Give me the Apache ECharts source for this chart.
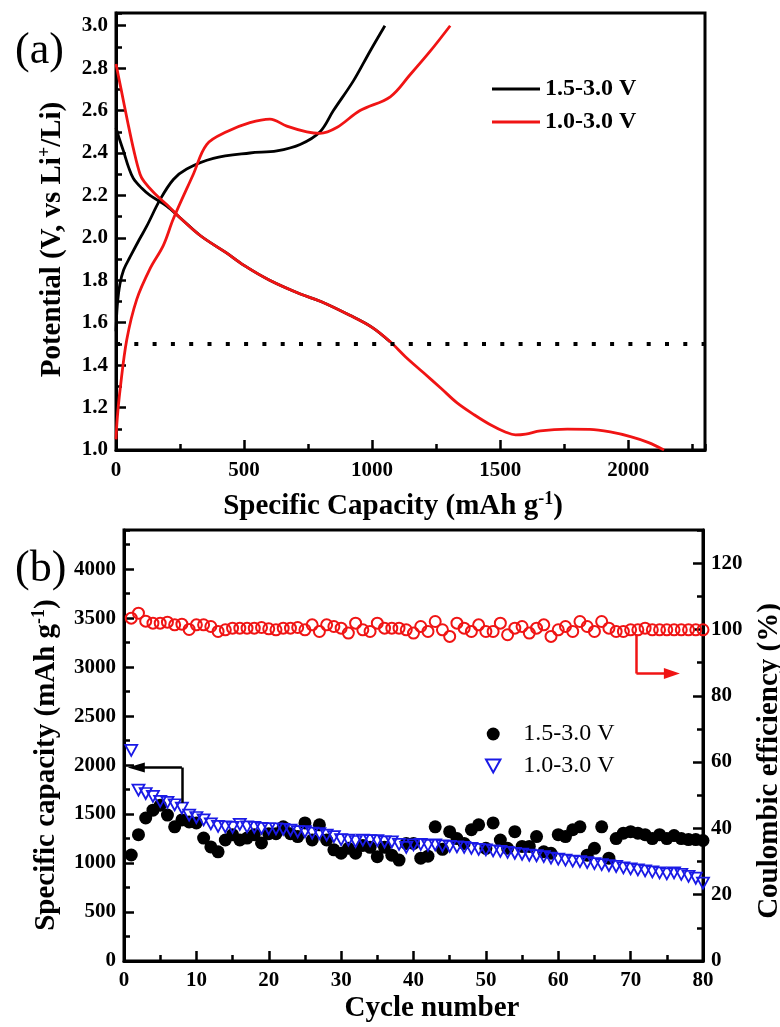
<!DOCTYPE html>
<html>
<head>
<meta charset="utf-8">
<script src="https://cdn.jsdelivr.net/npm/echarts@6.0.0/dist/echarts.min.js"></script>
<style>
  html, body { margin: 0; padding: 0; background: #fff; }
  #chart { width: 780px; height: 1027px; }
</style>
</head>
<body>
<div id="chart"></div>
<script>
// panel (a): voltage profiles, [capacity (mAh/g), potential (V)]
const dis15 = [[0, 2.52], [15, 2.46], [29, 2.41], [50, 2.33], [68, 2.28], [100, 2.235], [133, 2.2], [198, 2.15], [250, 2.095],
  [330, 2.01], [430, 1.93], [500, 1.87], [600, 1.8], [720, 1.735], [800, 1.7], [913, 1.635], [1000, 1.578], [1070, 1.51]];
const chg15 = [[0, 1.56], [5, 1.68], [15, 1.78], [30, 1.85], [55, 1.91], [90, 1.99], [120, 2.055], [172, 2.18], [224, 2.275],
  [276, 2.325], [380, 2.375], [523, 2.4], [628, 2.41], [719, 2.44], [797, 2.5], [849, 2.6], [927, 2.74], [992, 2.88], [1050, 3.0]];
const dis10 = [[0, 2.82], [20, 2.7], [45, 2.55], [70, 2.41], [94, 2.3], [110, 2.265], [150, 2.21], [200, 2.155], [250, 2.095],
  [330, 2.01], [430, 1.93], [500, 1.87], [600, 1.8], [720, 1.735], [800, 1.7], [913, 1.635], [1000, 1.578], [1071, 1.51],
  [1130, 1.44], [1201, 1.364], [1270, 1.29], [1332, 1.222], [1400, 1.165], [1462, 1.119], [1520, 1.085], [1560, 1.071],
  [1600, 1.075], [1657, 1.09], [1762, 1.098], [1850, 1.097], [1930, 1.085], [2009, 1.063], [2080, 1.035], [2140, 1.0]];
const chg10 = [[0, 1.05], [5, 1.15], [16, 1.285], [42, 1.52], [81, 1.71], [133, 1.855], [185, 1.965], [224, 2.09], [302, 2.3],
  [354, 2.44], [432, 2.5], [523, 2.543], [601, 2.56], [667, 2.527], [745, 2.5], [797, 2.493], [862, 2.52], [953, 2.6],
  [1071, 2.665], [1149, 2.77], [1227, 2.88], [1305, 3.0]];
const cutoff = [[0, 1.5], [2300, 1.5]];

// panel (b): cycling
const cycles = [1, 2, 3, 4, 5, 6, 7, 8, 9, 10, 11, 12, 13, 14, 15, 16, 17, 18, 19, 20,
  21, 22, 23, 24, 25, 26, 27, 28, 29, 30, 31, 32, 33, 34, 35, 36, 37, 38, 39, 40,
  41, 42, 43, 44, 45, 46, 47, 48, 49, 50, 51, 52, 53, 54, 55, 56, 57, 58, 59, 60,
  61, 62, 63, 64, 65, 66, 67, 68, 69, 70, 71, 72, 73, 74, 75, 76, 77, 78, 79, 80];
const cap15 = [1082, 1290, 1460, 1540, 1590, 1490, 1370, 1440, 1420, 1410, 1255, 1165, 1115, 1235, 1290, 1235, 1255, 1290, 1205, 1300,
  1300, 1370, 1300, 1270, 1410, 1235, 1390, 1235, 1135, 1100, 1150, 1100, 1180, 1160, 1065, 1160, 1080, 1030, 1200, 1200,
  1050, 1070, 1370, 1140, 1320, 1250, 1200, 1340, 1390, 1150, 1410, 1235, 1150, 1320, 1170, 1170, 1270, 1115, 1100, 1290,
  1270, 1340, 1370, 1080, 1150, 1370, 1050, 1250, 1305, 1320, 1305, 1290, 1250, 1290, 1250, 1280, 1250, 1240, 1240, 1230];
const cap10 = [2150, 1745, 1710, 1680, 1630, 1620, 1595, 1560, 1490, 1465, 1440, 1400, 1375, 1370, 1365, 1395, 1370, 1365, 1355, 1350,
  1350, 1345, 1335, 1320, 1320, 1305, 1300, 1285, 1270, 1240, 1235, 1220, 1235, 1230, 1230, 1215, 1215, 1190, 1160, 1185,
  1190, 1180, 1185, 1175, 1170, 1165, 1160, 1150, 1140, 1135, 1125, 1120, 1110, 1100, 1090, 1080, 1075, 1065, 1050, 1040,
  1030, 1020, 1015, 1005, 995, 985, 975, 965, 950, 940, 930, 920, 910, 900, 890, 900, 885, 865, 845, 795];
const ceff = [103.4, 104.9, 102.5, 101.9, 101.9, 102.2, 101.4, 101.6, 100.0, 101.4, 101.4, 100.9, 99.4, 99.9, 100.4, 100.4, 100.4, 100.4, 100.6, 100.2,
  99.9, 100.4, 100.4, 100.6, 99.9, 101.4, 99.4, 101.4, 100.9, 100.4, 98.9, 101.9, 99.9, 99.4, 101.9, 100.4, 100.4, 100.4, 99.9, 98.9,
  100.9, 99.4, 102.4, 99.9, 97.9, 101.9, 100.4, 99.4, 101.4, 99.4, 99.4, 101.9, 98.4, 100.4, 100.9, 98.9, 100.4, 101.4, 97.9, 99.9,
  100.9, 99.4, 102.4, 100.9, 99.4, 102.4, 100.4, 99.4, 99.4, 99.9, 99.9, 100.4, 99.9, 99.9, 99.9, 99.9, 99.9, 99.9, 99.9, 99.9];

const FONT = 'Liberation Serif';
const pairs = (xs, ys) => xs.map((x, i) => [x, ys[i]]);
const plain = (v) => String(v);

const tickLabel = { color: '#000', fontFamily: FONT, fontWeight: 'bold', fontSize: 21, showMaxLabel: false, formatter: plain };
const lineAx = { lineStyle: { color: '#000', width: 3 } };
const majorTick = { inside: true, length: 10, lineStyle: { color: '#000', width: 2.5 } };
const minorTick = { inside: true, length: 6, lineStyle: { color: '#000', width: 2.5 } };
const nameStyle = (pad) => ({
  color: '#000', fontFamily: FONT, fontWeight: 'bold', fontSize: 29, lineHeight: 33, padding: pad,
  rich: { sup: { fontFamily: FONT, fontWeight: 'bold', fontSize: 18, lineHeight: 19, verticalAlign: 'top' } }
});
// axis that only adds the small in-between ticks
const minorAxis = (grid, min, max, step, pos) => ({
  type: 'value', gridIndex: grid, min: min, max: max, interval: step, position: pos,
  axisLine: { show: false }, axisTick: minorTick, axisLabel: { show: false }, splitLine: { show: false }
});
const profile = (name, data, color) => ({
  name: name, type: 'line', xAxisIndex: 0, yAxisIndex: 0, data: data, symbol: 'none', showSymbol: false,
  smooth: 0.35, color: color, lineStyle: { color: color, width: 2.8 }
});

const chart = echarts.init(document.getElementById('chart'));
chart.setOption({
  animation: false,
  backgroundColor: '#fff',
  textStyle: { fontFamily: FONT },
  title: [
    { text: '(a)', left: 10, top: 24, textStyle: { fontFamily: FONT, fontWeight: 'normal', fontSize: 44, color: '#000' } },
    { text: '(b)', left: 10, top: 542, textStyle: { fontFamily: FONT, fontWeight: 'normal', fontSize: 44, color: '#000' } }
  ],
  grid: [
    { left: 116, top: 13, right: 75, bottom: 577, show: true, borderWidth: 3, borderColor: '#000', outerBoundsMode: 'none' },
    { left: 124, top: 530, right: 77, bottom: 66, show: true, borderWidth: 3, borderColor: '#000', outerBoundsMode: 'none' }
  ],
  legend: [
    {
      data: [{ name: '1.5-3.0 V', icon: 'rect' }, { name: '1.0-3.0 V', icon: 'rect' }],
      orient: 'vertical', left: 487, top: 69, itemWidth: 48, itemHeight: 3, itemGap: 3,
      textStyle: { fontFamily: FONT, fontWeight: 'bold', fontSize: 24, color: '#000', lineHeight: 30 }, selectedMode: false
    },
    {
      data: ['1.5-3.0 V#b', '1.0-3.0 V#b'], orient: 'vertical', left: 480, top: 714, itemWidth: 50, itemHeight: 13, itemGap: 2,
      formatter: (n) => n.split('#')[0],
      textStyle: { fontFamily: FONT, fontSize: 24, color: '#000', lineHeight: 30 }, selectedMode: false
    }
  ],
  xAxis: [
    {
      type: 'value', gridIndex: 0, min: 0, max: 2300, interval: 500,
      axisLine: lineAx, axisTick: majorTick, axisLabel: Object.assign({}, tickLabel, { margin: 10 }), splitLine: { show: false },
      name: 'Specific Capacity (mAh g{sup|-1})', nameLocation: 'middle', nameGap: 40, nameTextStyle: nameStyle([0, 35, 0, 0])
    },
    minorAxis(0, 0, 2300, 250, 'bottom'),
    {
      type: 'value', gridIndex: 1, min: 0, max: 80, interval: 10,
      axisLine: lineAx, axisTick: majorTick, minorTick: { show: true, splitNumber: 2, length: 6, lineStyle: { color: '#000', width: 2.5 } },
      axisLabel: Object.assign({}, tickLabel, { margin: 9, showMaxLabel: true }), splitLine: { show: false }, minorSplitLine: { show: false },
      name: 'Cycle number', nameLocation: 'middle', nameGap: 30, nameTextStyle: nameStyle([0, 0, 0, 37])
    }
  ],
  yAxis: [
    {
      type: 'value', gridIndex: 0, min: 1, max: 3.06, interval: 0.2,
      axisLine: lineAx, axisTick: majorTick, splitLine: { show: false },
      axisLabel: Object.assign({}, tickLabel, { margin: 8, formatter: (v) => v.toFixed(1) }),
      name: 'Potential (V, vs Li{sup|+}/Li)', nameLocation: 'middle', nameGap: 47, nameTextStyle: nameStyle([0, 16, 0, 0])
    },
    minorAxis(0, 1, 3.06, 0.1, 'left'),
    {
      type: 'value', gridIndex: 1, min: 0, max: 4400, interval: 500, position: 'left',
      axisLine: lineAx, axisTick: majorTick, splitLine: { show: false },
      axisLabel: Object.assign({}, tickLabel, { margin: 8 }),
      name: 'Specific capacity (mAh g{sup|-1})', nameLocation: 'middle', nameGap: 60, nameTextStyle: nameStyle([0, 39, 0, 0])
    },
    minorAxis(1, 0, 4400, 250, 'left'),
    {
      type: 'value', gridIndex: 1, min: 0, max: 130, interval: 20, position: 'right',
      axisLine: lineAx, axisTick: majorTick, splitLine: { show: false },
      axisLabel: Object.assign({}, tickLabel, { margin: 8 }),
      name: 'Coulombic efficiency (%)', nameLocation: 'middle', nameGap: 44, nameTextStyle: nameStyle([0, 31, 0, 0])
    },
    minorAxis(1, 0, 130, 10, 'right')
  ],
  series: [
    profile('1.5-3.0 V', dis15, '#000'),
    profile('1.5-3.0 V', chg15, '#000'),
    profile('1.0-3.0 V', dis10, '#f01414'),
    profile('1.0-3.0 V', chg10, '#f01414'),
    {
      name: 'cut-off', type: 'line', xAxisIndex: 0, yAxisIndex: 0, data: cutoff, symbol: 'none',
      lineStyle: { color: '#000', width: 4, type: [4, 14.3] }
    },
    {
      name: 'Coulombic efficiency', type: 'scatter', xAxisIndex: 2, yAxisIndex: 4, data: pairs(cycles, ceff),
      symbol: 'circle', symbolSize: 11,
      itemStyle: { color: 'rgba(0,0,0,0)', borderColor: '#f01414', borderWidth: 2, opacity: 1 },
      markLine: {
        silent: true, animation: false, symbol: ['none', 'none'], label: { show: false },
        lineStyle: { color: '#f01414', width: 2.5, type: 'solid' },
        data: [
          [{ coord: [70.8, 98.5] }, { coord: [70.8, 86.7] }],
          [{ coord: [70.8, 86.7] }, { coord: [75.7, 86.7], symbol: 'triangle', symbolSize: [11, 16] }]
        ]
      }
    },
    {
      name: '1.5-3.0 V#b', type: 'scatter', xAxisIndex: 2, yAxisIndex: 2, data: pairs(cycles, cap15),
      symbol: 'circle', symbolSize: 13, itemStyle: { color: '#000', opacity: 1 },
      markLine: {
        silent: true, animation: false, symbol: ['none', 'none'], label: { show: false },
        lineStyle: { color: '#000', width: 2.5, type: 'solid' },
        data: [
          [{ coord: [8, 1615] }, { coord: [8, 1975] }],
          [{ coord: [8, 1975] }, { coord: [1.7, 1975], symbol: 'triangle', symbolSize: [10, 17] }]
        ]
      }
    },
    {
      name: '1.0-3.0 V#b', type: 'scatter', xAxisIndex: 2, yAxisIndex: 2, data: pairs(cycles, cap10),
      symbol: 'path://M0,0L20,0L10,18Z', symbolSize: [12, 11],
      itemStyle: { color: 'rgba(0,0,0,0)', borderColor: '#1a1ae6', borderWidth: 1.8, opacity: 1 }
    }
  ]
});
</script>
</body>
</html>
